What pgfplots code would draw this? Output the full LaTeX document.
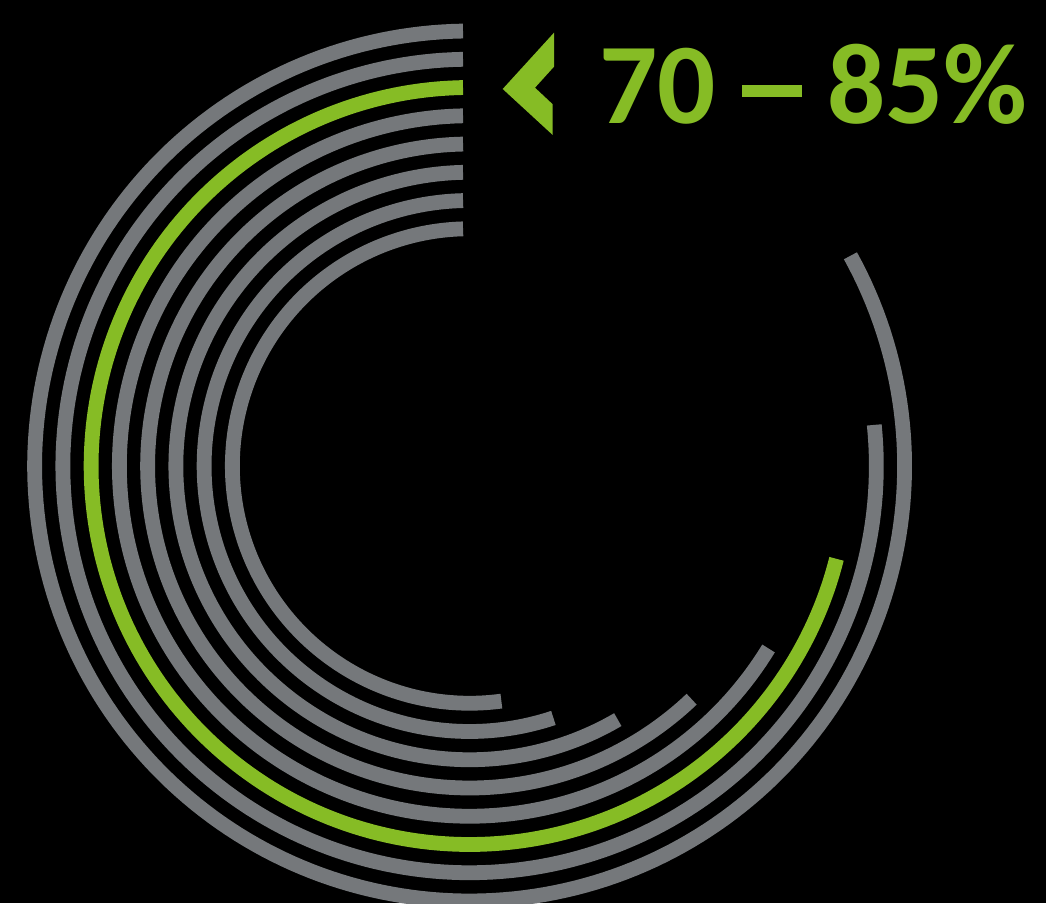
\documentclass[border=0pt]{standalone}
\usepackage{pgfplots}
\pgfplotsset{compat=1.18}
\usepackage{fontspec}
\setmainfont{Carlito}
\definecolor{dgreen}{HTML}{86BC25}
\definecolor{dgray}{HTML}{75787B}
\begin{document}
\begin{tikzpicture}
\begin{axis}[
  scale only axis, width=10.46cm, height=9.03cm,
  xmin=0, xmax=1046, ymin=0, ymax=903,
  hide axis,
  axis background/.style={fill=black},
  clip=true,
]
% radial bars: center (469.6, 437), radius r, from top (start) counter-clockwise to end angle (deg)
\addplot[dgray, line width=0.148cm, domain=90.87:388.9, samples=220, variable=\t] ({469.6+435*cos(\t)},{437+435*sin(\t)});
\addplot[dgray, line width=0.148cm, domain=90.93:365.8, samples=200, variable=\t] ({469.6+406.75*cos(\t)},{437+406.75*sin(\t)});
\addplot[dgreen, line width=0.148cm, domain=91.0:345.8, samples=200, variable=\t] ({469.6+378.5*cos(\t)},{437+378.5*sin(\t)});
\addplot[dgray, line width=0.148cm, domain=91.08:328.6, samples=180, variable=\t] ({469.6+350.25*cos(\t)},{437+350.25*sin(\t)});
\addplot[dgray, line width=0.148cm, domain=91.17:313.6, samples=180, variable=\t] ({469.6+322*cos(\t)},{437+322*sin(\t)});
\addplot[dgray, line width=0.148cm, domain=91.29:300.3, samples=160, variable=\t] ({469.6+293.75*cos(\t)},{437+293.75*sin(\t)});
\addplot[dgray, line width=0.148cm, domain=91.42:288.4, samples=160, variable=\t] ({469.6+265.5*cos(\t)},{437+265.5*sin(\t)});
\addplot[dgray, line width=0.148cm, domain=91.59:277.7, samples=150, variable=\t] ({469.6+237.25*cos(\t)},{437+237.25*sin(\t)});
% chevron
\addplot[fill=dgreen, draw=none] coordinates {(502.7,814) (554,870.3) (554,836.3) (535,815.3) (552.7,798.7) (552.7,768)} -- cycle;
\node[anchor=base west, inner sep=0pt, text=dgreen, font=\fontsize{32.7}{36}\selectfont\bfseries] at (axis cs:599,779) {70\hspace{0.223em}\rule[0.237em]{0.52em}{0.102em}\hspace{0.223em}85\%};
\end{axis}
\end{tikzpicture}
\end{document}
